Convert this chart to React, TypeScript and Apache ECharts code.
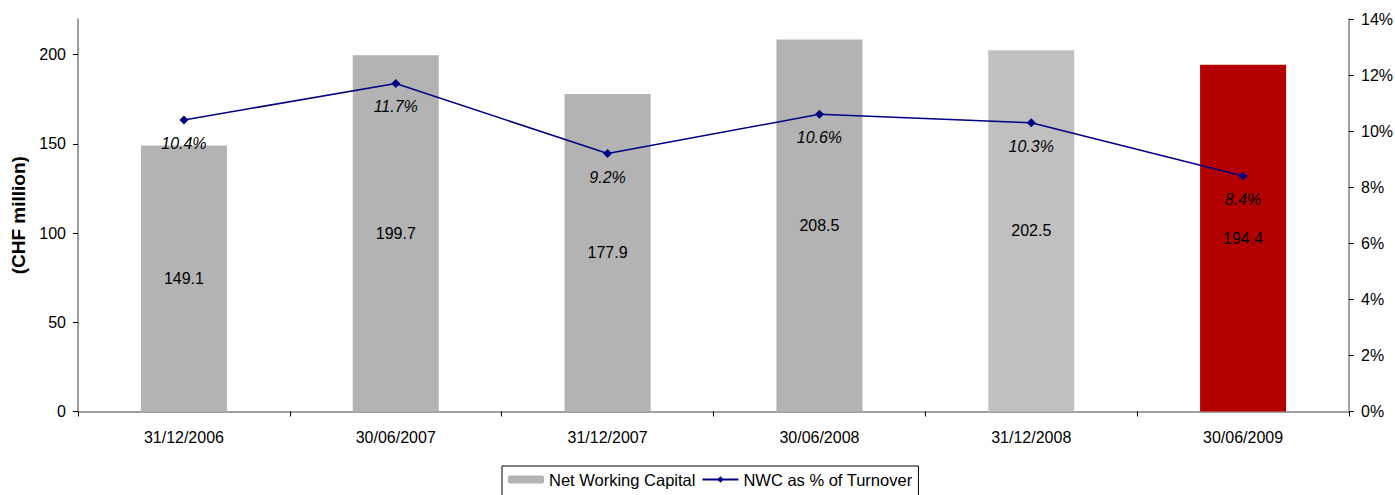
import React, { useEffect, useRef } from "react";
import * as echarts from "echarts";

const periods = ["31/12/2006", "30/06/2007", "31/12/2007", "30/06/2008", "31/12/2008", "30/06/2009"];
const netWorkingCapital = [149.1, 199.7, 177.9, 208.5, 202.5, 194.4];
const nwcPctTurnover = [10.4, 11.7, 9.2, 10.6, 10.3, 8.4];
const barColors = ["#B3B3B3", "#B3B3B3", "#B3B3B3", "#B3B3B3", "#C0C0C0", "#B50000"];
const leftTicks = [0, 50, 100, 150, 200];

const FONT = "'Liberation Sans', Arial, sans-serif";

export default function App() {
  const ref = useRef<HTMLDivElement>(null);

  useEffect(() => {
    if (!ref.current) return;
    const chart = echarts.init(ref.current, undefined, { renderer: "svg" });
    chart.setOption({
      animation: false,
      backgroundColor: "#ffffff",
      textStyle: { fontFamily: FONT },
      grid: {
        left: 78,
        right: 46,
        top: 19,
        bottom: 83.5,
        containLabel: false,
        outerBoundsMode: "none",
      },
      legend: {
        top: 466,
        left: 502,
        orient: "horizontal",
        borderColor: "#000",
        borderWidth: 1,
        padding: [5, 6, 12, 6],
        itemGap: 6,
        itemWidth: 36,
        itemHeight: 8,
        textStyle: { fontFamily: FONT, fontSize: 16.5, color: "#000" },
        data: ["Net Working Capital", "NWC as % of Turnover"],
      },
      xAxis: {
        type: "category",
        data: periods,
        axisLine: { lineStyle: { color: "#808080", width: 1.5 } },
        axisTick: { show: true, alignWithLabel: false, length: 5, lineStyle: { color: "#000" } },
        axisLabel: { fontFamily: FONT, fontSize: 16, color: "#000", margin: 18 },
      },
      yAxis: [
        {
          type: "value",
          min: 0,
          max: 220,
          interval: 50,
          name: "(CHF million)",
          nameLocation: "middle",
          nameGap: 50,
          nameTextStyle: { fontFamily: FONT, fontSize: 19, fontWeight: "bold", color: "#000" },
          splitLine: { show: false },
          axisLine: { show: true, lineStyle: { color: "#808080", width: 1.5 } },
          axisTick: { show: true, length: 5, lineStyle: { color: "#000" }, customValues: leftTicks },
          axisLabel: {
            fontFamily: FONT,
            fontSize: 16,
            color: "#000",
            margin: 12,
            customValues: leftTicks,
          },
        },
        {
          type: "value",
          min: 0,
          max: 14,
          interval: 2,
          position: "right",
          splitLine: { show: false },
          axisLine: { show: true, lineStyle: { color: "#808080", width: 1.5 } },
          axisTick: { show: true, length: 5, lineStyle: { color: "#000" } },
          axisLabel: {
            fontFamily: FONT,
            fontSize: 16,
            color: "#000",
            margin: 12,
            formatter: (v: number) => `${v}%`,
          },
        },
      ],
      series: [
        {
          name: "Net Working Capital",
          type: "bar",
          yAxisIndex: 0,
          barWidth: "40.6%",
          itemStyle: { color: barColors[0] },
          data: netWorkingCapital.map((v, i) => ({ value: v, itemStyle: { color: barColors[i] } })),
          label: {
            show: true,
            position: "inside",
            fontFamily: FONT,
            fontSize: 16,
            color: "#000",
            formatter: (p: any) => Number(p.value).toFixed(1),
          },
        },
        {
          name: "NWC as % of Turnover",
          type: "line",
          yAxisIndex: 1,
          data: nwcPctTurnover,
          symbol: "diamond",
          symbolSize: 9,
          lineStyle: { color: "#000080", width: 1.5 },
          itemStyle: { color: "#000080" },
          label: {
            show: true,
            position: "bottom",
            distance: 11,
            fontFamily: FONT,
            fontSize: 16,
            fontStyle: "italic",
            color: "#000",
            formatter: (p: any) => `${Number(p.value).toFixed(1)}%`,
          },
          z: 3,
        },
      ],
    });
    return () => chart.dispose();
  }, []);

  return (
    <div
      ref={ref}
      style={{ position: "absolute", left: 0, top: 0, width: 1395, height: 495 }}
    />
  );
}
